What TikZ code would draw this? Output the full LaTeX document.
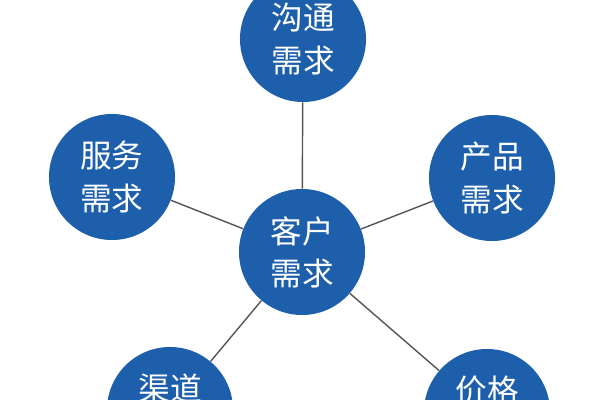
\documentclass[tikz,border=0pt]{standalone}
\usepackage{fontspec}
\newfontfamily\cjk{Noto Sans CJK SC}
\definecolor{needblue}{HTML}{1E5FAC}
\definecolor{linkgray}{HTML}{555555}
\tikzset{
  need/.style={circle, fill=needblue, text=white, minimum size=3.15cm, inner sep=0pt, align=center,
    font=\cjk\fontsize{22.5}{30}\selectfont},
  link/.style={draw=linkgray, line width=1pt}
}
\begin{document}
\begin{tikzpicture}[x=0.025cm, y=-0.025cm]
    \useasboundingbox (0,0) rectangle (600,400);
    \node[need] at (302, 252) (c) {客户\\需求};
    \node[need] at (303, 39) (t) {沟通\\需求};
    \node[need] at (112, 177) (l) {服务\\需求};
    \node[need] at (492, 178) (r) {产品\\需求};
    \node[need] at (170, 410) (bl) {渠道\\需求};
    \node[need] at (487, 412) (br) {价格\\需求};

    \draw[link] (c) edge (t);
    \draw[link] (c) edge (l);
    \draw[link] (c) edge (r);
    \draw[link] (c) edge (bl);
    \draw[link] (c) edge (br);
  \end{tikzpicture}
\end{document}
